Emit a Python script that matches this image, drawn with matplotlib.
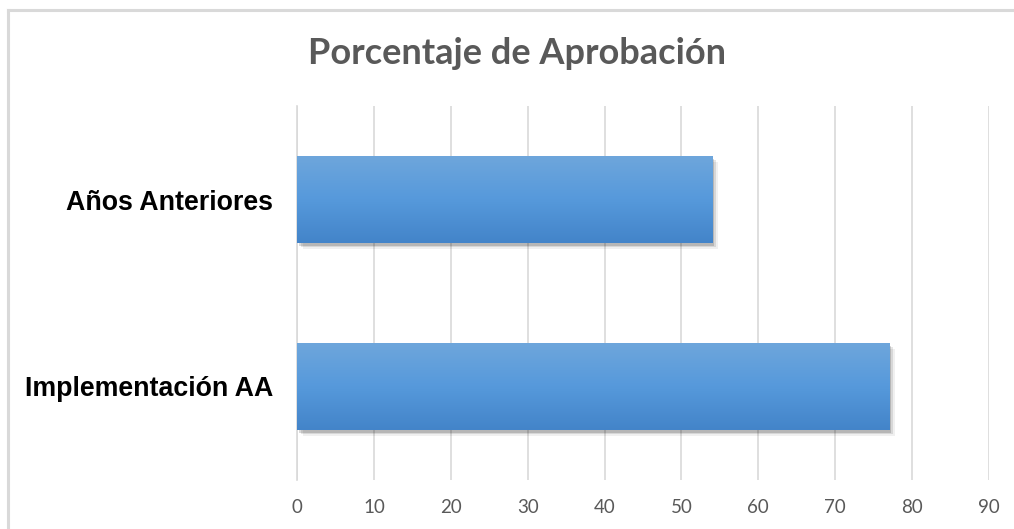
import numpy as np
import matplotlib
matplotlib.use("Agg")
import matplotlib.pyplot as plt
import matplotlib.patheffects as pe
from matplotlib.colors import LinearSegmentedColormap
from matplotlib.lines import Line2D

categories = ["Implementación AA", "Años Anteriores"]
values = [77, 54]
xticks = [0, 10, 20, 30, 40, 50, 60, 70, 80, 90]
title = "Porcentaje de Aprobación"

W, H = 1014, 529
fig = plt.figure(figsize=(W / 100, H / 100), dpi=100)
fig.patch.set_facecolor("white")

# outer frame (left and top edges visible)
fig.add_artist(Line2D([8 / W, 8 / W], [0, 1 - 10 / H], transform=fig.transFigure,
                      color="#d9d9d9", linewidth=2.2))
fig.add_artist(Line2D([8 / W, 1], [1 - 10 / H, 1 - 10 / H], transform=fig.transFigure,
                      color="#d9d9d9", linewidth=2.2))

ax = fig.add_axes([297 / W, (H - 480) / H, (989 - 297) / W, (480 - 106) / H])
ax.set_xlim(0, 90)
ax.set_ylim(-0.5, 1.5)

bars = ax.barh(range(len(categories)), values, height=0.465, color="#5b9bd5", zorder=3)

cmap = LinearSegmentedColormap.from_list("g", ["#4384c9", "#5699db", "#6ea6dc"])
grad = np.linspace(0, 1, 256).reshape(-1, 1)
for b in bars:
    b.set_path_effects([
        pe.SimplePatchShadow(offset=(4, -4), shadow_rgbFace="black", alpha=0.06),
        pe.SimplePatchShadow(offset=(3, -3), shadow_rgbFace="black", alpha=0.10),
        pe.SimplePatchShadow(offset=(1.5, -2), shadow_rgbFace="black", alpha=0.15),
        pe.Normal(),
    ])
    x0, y0 = b.get_x(), b.get_y()
    w, h = b.get_width(), b.get_height()
    im = ax.imshow(grad, extent=[x0, x0 + w, y0, y0 + h], origin="lower",
                   cmap=cmap, aspect="auto", zorder=4)
    im.set_clip_path(b)
ax.set_xlim(0, 90)
ax.set_ylim(-0.5, 1.5)

ax.set_xticks(xticks)
ax.set_xticklabels([str(t) for t in xticks], fontfamily="Lato", fontsize=13.5, color="#595959")
ax.set_yticks(range(len(categories)))
ax.set_yticklabels(categories, fontfamily="Liberation Sans", fontweight="bold", fontsize=19.3, color="black")
ax.tick_params(axis="x", length=0, pad=14)
ax.tick_params(axis="y", length=0, pad=17)
ax.grid(axis="x", color="#d9d9d9", linewidth=1.2, zorder=0)
ax.set_axisbelow(True)
for s in ["top", "right", "bottom"]:
    ax.spines[s].set_visible(False)
ax.spines["left"].set_color("#d9d9d9")
ax.spines["left"].set_linewidth(1.2)

fig.text(517 / W, 1 - 53 / H, title, ha="center", va="center", fontfamily="Lato",
         fontweight="bold", fontsize=26, color="#595959")

fig.savefig("out.png", dpi=100)
